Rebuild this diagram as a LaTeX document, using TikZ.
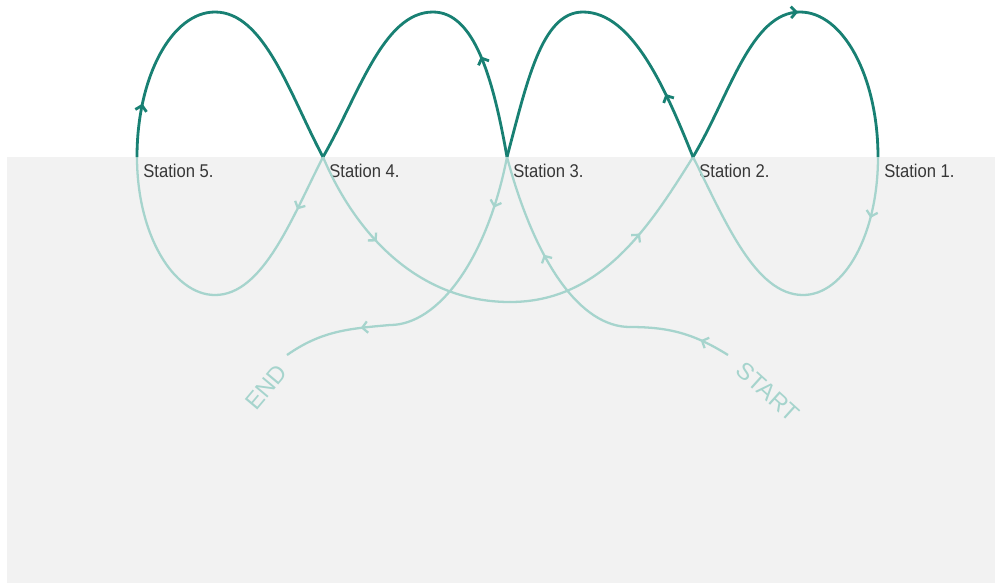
\documentclass[tikz,border=0pt]{standalone}
\usepackage{fontspec}
\setmainfont{Liberation Sans}
\newfontfamily\stationfont[FakeStretch=0.9]{Liberation Sans}
\usetikzlibrary{arrows.meta,decorations.markings}

\definecolor{trackdark}{RGB}{24,128,115}
\definecolor{tracklight}{RGB}{166,212,205}
\definecolor{groundgray}{RGB}{242,242,242}
\definecolor{labelgray}{RGB}{55,55,55}

\tikzset{
  above track/.style={trackdark, line width=1.6pt},
  below track/.style={tracklight, line width=1.3pt},
  midarrow/.style={postaction={decorate, decoration={markings,
      mark=at position #1 with {\arrow{Straight Barb[length=3pt,width=6.5pt]}}}}},
  station/.style={font=\stationfont\fontsize{10.5}{12}\selectfont, text=labelgray, inner sep=0pt, anchor=base west},
  endpoint/.style={font=\fontsize{13.5}{15}\selectfont, text=tracklight, inner sep=0pt},
}

\begin{document}
\begin{tikzpicture}[x=0.02cm, y=0.02cm]
  \useasboundingbox (0,0) rectangle (995,-583);
  \fill[groundgray] (7,-157) rectangle (995,-583);
  % stations
  \coordinate (s1) at (878,-157);
  \coordinate (s2) at (693,-157);
  \coordinate (s3) at (507,-157);
  \coordinate (s4) at (323,-157);
  \coordinate (s5) at (137,-157);
  \node[station] (t1) at ([shift={(6,-20)}]s1) {Station 1.};
  \node[station] (t2) at ([shift={(6,-20)}]s2) {Station 2.};
  \node[station] (t3) at ([shift={(6,-20)}]s3) {Station 3.};
  \node[station] (t4) at ([shift={(6,-20)}]s4) {Station 4.};
  \node[station] (t5) at ([shift={(6,-20)}]s5) {Station 5.};
  % turning points
  \coordinate (pa) at (215,-12);
  \coordinate (pb) at (433,-12);
  \coordinate (pc) at (583,-12);
  \coordinate (pd) at (800,-12);
  \coordinate (ba) at (215,-295);
  \coordinate (bd) at (803,-295);
  \coordinate (bb) at (510,-302);
  \coordinate (m1) at (630,-327);
  \coordinate (m2) at (390,-325);
  \coordinate (st) at (728,-355);
  \coordinate (en) at (287,-355);
  \node[endpoint, rotate=-42] (start) at (768,-392) {START};
  \node[endpoint, rotate=50] (end) at (266,-387) {END};
  % the line, start to end
  \draw[below track, midarrow=0.3] (st) to[out=148, in=0] (m1);
  \draw[below track, midarrow=0.53] (m1) to[out=180, in=-75, out looseness=0.6, in looseness=1.35] (s3);
  \draw[above track, midarrow=0.6] (s3) to[out=100, in=0, out looseness=1.25, in looseness=0.65] (pb);
  \draw[above track] (pb) to[out=180, in=60, out looseness=0.7, in looseness=1.0] (s4);
  \draw[below track, midarrow=0.32] (s4) to[out=243, in=0, out looseness=1.0, in looseness=0.7] (ba);
  \draw[below track] (ba) to[out=180, in=-90, out looseness=0.67, in looseness=1.25] (s5);
  \draw[above track, midarrow=0.3] (s5) to[out=90, in=180, out looseness=1.25, in looseness=0.67] (pa);
  \draw[above track] (pa) to[out=0, in=118, out looseness=0.7, in looseness=1.0] (s4);
  \draw[below track, midarrow=0.4] (s4) to[out=-67, in=180, out looseness=0.9, in looseness=1.0] (bb);
  \draw[below track, midarrow=0.62] (bb) to[out=0, in=-122, out looseness=1.0, in looseness=0.9] (s2);
  \draw[above track, midarrow=0.99] (s2) to[out=59, in=180, out looseness=1.0, in looseness=0.7] (pd);
  \draw[above track] (pd) to[out=0, in=90, out looseness=0.67, in looseness=1.25] (s1);
  \draw[below track, midarrow=0.36] (s1) to[out=-90, in=0, out looseness=1.25, in looseness=0.68] (bd);
  \draw[below track] (bd) to[out=180, in=-63, out looseness=0.7, in looseness=1.0] (s2);
  \draw[above track, midarrow=0.36] (s2) to[out=112, in=0, out looseness=1.0, in looseness=0.7] (pc);
  \draw[above track] (pc) to[out=180, in=75, out looseness=0.65, in looseness=1.2] (s3);
  \draw[below track, midarrow=0.24] (s3) to[out=259, in=0, out looseness=1.3, in looseness=0.6] (m2);
  \draw[below track, midarrow=0.27] (m2) to[out=185, in=35] (en);
\end{tikzpicture}
\end{document}
